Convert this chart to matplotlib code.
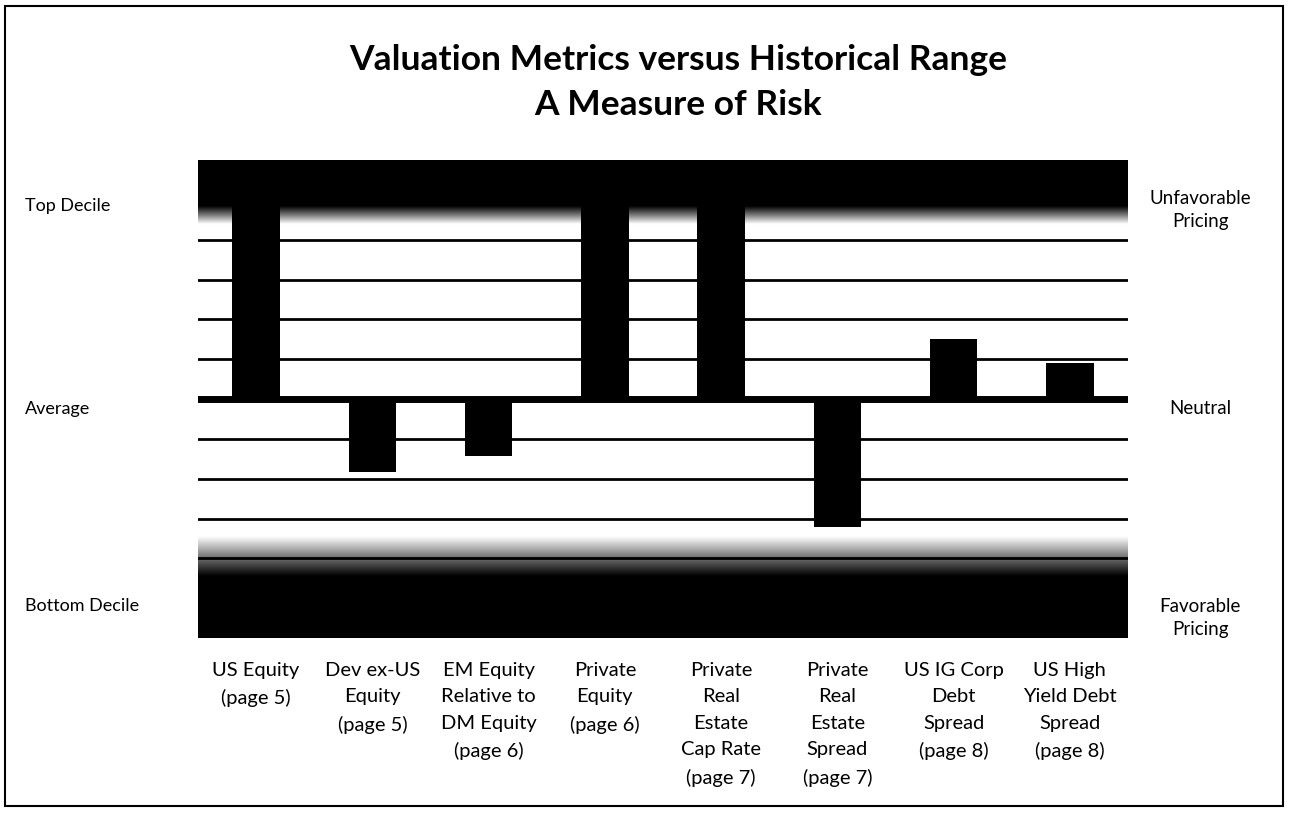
import numpy as np
import matplotlib
matplotlib.use("Agg")
import matplotlib.pyplot as plt
from matplotlib.patches import Rectangle
from matplotlib.colors import LinearSegmentedColormap

plt.rcParams['font.family'] = ['Lato', 'DejaVu Sans']

categories = ["US Equity\n(page 5)", "Dev ex-US\nEquity\n(page 5)",
              "EM Equity\nRelative to\nDM Equity\n(page 6)", "Private\nEquity\n(page 6)",
              "Private\nReal\nEstate\nCap Rate\n(page 7)", "Private\nReal\nEstate\nSpread\n(page 7)",
              "US IG Corp\nDebt\nSpread\n(page 8)", "US High\nYield Debt\nSpread\n(page 8)"]
values = [6.0, -1.84, -1.44, 6.0, 6.0, -3.22, 1.51, 0.91]
grid_levels = [-4, -3, -2, -1, 1, 2, 3, 4]
left_labels = ["Top Decile", "Average", "Bottom Decile"]
right_labels = ["Unfavorable\nPricing", "Neutral", "Favorable\nPricing"]

W, H = 1290, 815
fig = plt.figure(figsize=(W/100, H/100), dpi=100)
ax = fig.add_axes([198/W, 1-638/H, (1128-198)/W, (638-160)/H])
ymin, ymax = -6, 6
n = len(categories)
ax.set_xlim(-0.5, n-0.5)
ax.set_ylim(ymin, ymax)

# gradient bands
cmap = LinearSegmentedColormap.from_list("g", ["white", "#7a7a7a", "black"])
top_vals = np.clip((np.linspace(4.0, 6, 200) - 4.4) / (4.85 - 4.4), 0, 1).reshape(-1, 1)
ax.imshow(top_vals, extent=(-0.5, n-0.5, 4.0, 6), origin='lower', aspect='auto',
          cmap=cmap, vmin=0, vmax=1, zorder=1, interpolation='bilinear')
bot_vals = np.clip((np.linspace(-6, -3.4, 200) - (-3.45)) / (-4.45 - (-3.45)), 0, 1).reshape(-1, 1)
ax.imshow(bot_vals, extent=(-0.5, n-0.5, -6, -3.4), origin='lower', aspect='auto',
          cmap=cmap, vmin=0, vmax=1, zorder=1, interpolation='bilinear')

for g in grid_levels:
    ax.axhline(g, color='black', lw=2.0, zorder=2)
ax.axhline(0, color='black', lw=5, zorder=2)

x = np.arange(n)
ax.bar(x, values, width=0.41, color='black', zorder=3)

ax.set_xticks([])
ax.set_yticks([])
for s in ax.spines.values():
    s.set_visible(False)

for i, c in enumerate(categories):
    ax.text(i, -6.6, c, ha='center', va='top', fontsize=14.5, linespacing=1.68,
            transform=ax.transData, clip_on=False)

# side labels
fig.text(25/W, 1-206/H, left_labels[0], ha='left', va='center', fontsize=13)
fig.text(25/W, 1-409/H, left_labels[1], ha='left', va='center', fontsize=13)
fig.text(25/W, 1-606/H, left_labels[2], ha='left', va='center', fontsize=13)
fig.text(1200/W, 1-210/H, right_labels[0], ha='center', va='center', fontsize=13.5, linespacing=1.45)
fig.text(1200/W, 1-408/H, right_labels[1], ha='center', va='center', fontsize=13.5)
fig.text(1200/W, 1-618/H, right_labels[2], ha='center', va='center', fontsize=13.5, linespacing=1.5)

fig.text(678/W, 1-60/H, "Valuation Metrics versus Historical Range", ha='center', va='center',
         fontsize=25.5, fontweight='bold')
fig.text(678/W, 1-105/H, "A Measure of Risk", ha='center', va='center',
         fontsize=25.5, fontweight='bold')

fig.patches.append(Rectangle((5/W, 1-806/H), (1283-5)/W, (806-6)/H, transform=fig.transFigure,
                             fill=False, edgecolor='black', lw=1.5))

fig.savefig("out.png", dpi=100)
